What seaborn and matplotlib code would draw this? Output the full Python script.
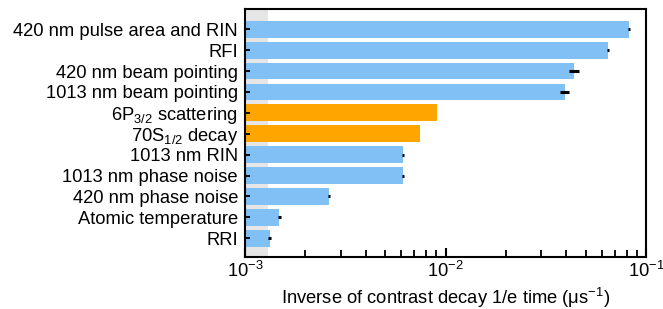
import numpy as np
import pandas as pd
import seaborn as sns
import matplotlib.pyplot as plt
from matplotlib.ticker import LogLocator, NullFormatter

labels = ["420 nm pulse area and RIN", "RFI", "420 nm beam pointing",
          "1013 nm beam pointing", "6P$_{3/2}$ scattering", "70S$_{1/2}$ decay",
          "1013 nm RIN", "1013 nm phase noise", "420 nm phase noise",
          "Atomic temperature", "RRI"]
rates = [0.0822, 0.0646, 0.0437, 0.0392, 0.00907, 0.00746,
         0.00614, 0.00614, 0.00262, 0.00148, 0.00133]
errors = [0.0014, 0.0010, 0.0026, 0.0021, 0.0, 0.0,
          0.00010, 0.00010, 0.00004, 0.000025, 0.00002]
kind = ["tech", "tech", "tech", "tech", "atom", "atom",
        "tech", "tech", "tech", "tech", "tech"]
floor_rate = 1.3e-3

plt.rcParams['font.family'] = ['Liberation Sans', 'DejaVu Sans']
plt.rcParams['mathtext.fontset'] = 'custom'
plt.rcParams['mathtext.rm'] = 'Liberation Sans'
plt.rcParams['mathtext.it'] = 'Liberation Sans:italic'
plt.rcParams['mathtext.bf'] = 'Liberation Sans:bold'
plt.rcParams['xtick.direction'] = 'in'
plt.rcParams['ytick.direction'] = 'in'
fs = 13.2

df = pd.DataFrame({"label": labels, "rate": rates, "err": errors, "kind": kind})

fig = plt.figure(figsize=(6.63, 3.09), dpi=100)
ax = fig.add_axes([0.3695, 0.168, 0.605, 0.803])
ax.set_xscale("log")

sns.barplot(data=df, x="rate", y="label", hue="kind", orient="h",
            palette={"tech": "#80c0f5", "atom": "#ffa500"}, saturation=1,
            width=0.8, legend=False, ax=ax, zorder=2)
ax.axvspan(1e-3, floor_rate, color="#e6e6e6", zorder=0, lw=0)
tech = df[df["kind"] == "tech"]
ax.errorbar(tech["rate"], tech.index, xerr=tech["err"], fmt="none",
            ecolor="black", elinewidth=2.2, capsize=0, zorder=3)

ax.set_xlim(1e-3, 1e-1)
ax.set_ylim(10.9, -0.97)
ax.xaxis.set_major_locator(LogLocator(base=10))
ax.xaxis.set_minor_locator(LogLocator(base=10, subs=np.arange(2, 10)))
ax.xaxis.set_minor_formatter(NullFormatter())
ax.set_ylabel("")
ax.set_xlabel("Inverse of contrast decay 1/e time (μs$^{-1}$)", fontsize=fs, labelpad=3)
for s in ax.spines.values():
    s.set_linewidth(1.5)
    s.set_color("black")
    s.set_visible(True)
ax.set_axisbelow(False)
ax.tick_params(axis="both", which="both", labelsize=fs, labelcolor="black")
ax.tick_params(axis="x", which="major", length=6.5, width=1.5, pad=3,
               bottom=True, color="black")
ax.tick_params(axis="x", which="minor", length=5, width=1.3,
               bottom=True, color="black")
ax.tick_params(axis="y", length=3.5, width=1.3, left=True, pad=5, color="black")

fig.savefig("out.png", dpi=100)
